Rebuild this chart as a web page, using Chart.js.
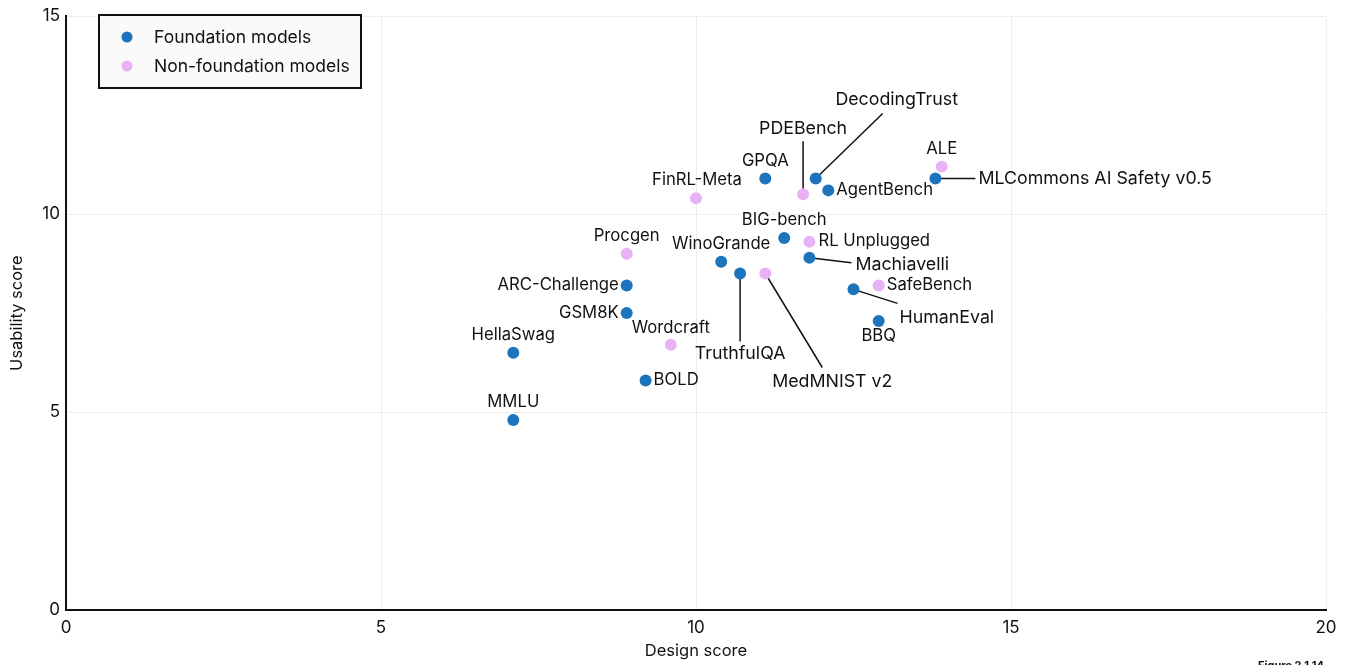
<!DOCTYPE html>
<html>
<head>
<meta charset="utf-8">
<script src="https://cdn.jsdelivr.net/npm/chart.js@4"></script>
<style>
  body { margin: 0; background: #fff; }
  #wrap { width: 1348px; height: 665px; }
</style>
</head>
<body>
<div id="wrap"><canvas id="canvas" width="1348" height="665"></canvas></div>
<script>
// data
const foundationNames = ["MMLU", "HellaSwag", "BOLD", "GSM8K", "ARC-Challenge", "WinoGrande", "TruthfulQA",
    "BIG-bench", "Machiavelli", "GPQA", "DecodingTrust", "AgentBench", "MLCommons AI Safety v0.5", "HumanEval", "BBQ"];
const foundationDesign = [7.1, 7.1, 9.2, 8.9, 8.9, 10.4, 10.7, 11.4, 11.8, 11.1, 11.9, 12.1, 13.8, 12.5, 12.9];
const foundationUsability = [4.8, 6.5, 5.8, 7.5, 8.2, 8.8, 8.5, 9.4, 8.9, 10.9, 10.9, 10.6, 10.9, 8.1, 7.3];

const nonFoundationNames = ["Procgen", "FinRL-Meta", "PDEBench", "ALE", "RL Unplugged", "SafeBench", "MedMNIST v2", "Wordcraft"];
const nonFoundationDesign = [8.9, 10.0, 11.7, 13.9, 11.8, 12.9, 11.1, 9.6];
const nonFoundationUsability = [9.0, 10.4, 10.5, 11.2, 9.3, 8.2, 8.5, 6.7];

const xTicks = [0, 5, 10, 15, 20];
const yTicks = [0, 5, 10, 15];

const blue = "#1c75bc";
const pink = "#e9b2f6";
const font = "Inter, 'Noto Sans', sans-serif";

// label placement: offset of the text from its dot, and optional leader line end
const labelPos = {
    "MMLU": [0, -18, "center"],
    "HellaSwag": [0, -18, "center"],
    "BOLD": [8, 0, "left"],
    "GSM8K": [-8, 0, "right"],
    "ARC-Challenge": [-8, 0, "right"],
    "WinoGrande": [0, -18, "center"],
    "TruthfulQA": [0, 80, "center", 0, 68],
    "BIG-bench": [0, -18, "center"],
    "Machiavelli": [46, 7, "left", 42, 5],
    "GPQA": [0, -18, "center"],
    "DecodingTrust": [81, -79, "center", 67, -65],
    "AgentBench": [8, 0, "left"],
    "MLCommons AI Safety v0.5": [43, 0, "left", 40, 0],
    "HumanEval": [46, 28, "left", 44, 14],
    "BBQ": [0, 15, "center"],
    "Procgen": [0, -18, "center"],
    "FinRL-Meta": [1, -18, "center"],
    "PDEBench": [0, -66, "center", 0, -53],
    "ALE": [0, -18, "center"],
    "RL Unplugged": [9, -1, "left"],
    "SafeBench": [8, 0, "left"],
    "MedMNIST v2": [67, 108, "center", 57, 94],
    "Wordcraft": [0, -17, "center"]
};

function toPoints(xs, ys) {
    return xs.map((x, i) => ({ x: x, y: ys[i] }));
}

const pointLabels = {
    id: "pointLabels",
    beforeDatasetsDraw(chart) {
        const ctx = chart.ctx;
        ctx.save();
        ctx.strokeStyle = "#111";
        ctx.lineWidth = 1.5;
        chart.data.datasets.forEach((ds, di) => {
            chart.getDatasetMeta(di).data.forEach((el, i) => {
                const p = labelPos[ds.names[i]];
                if (p && p.length > 3) {
                    ctx.beginPath();
                    ctx.moveTo(el.x, el.y);
                    ctx.lineTo(el.x + p[3], el.y + p[4]);
                    ctx.stroke();
                }
            });
        });
        ctx.restore();
    },
    afterDatasetsDraw(chart) {
        const ctx = chart.ctx;
        ctx.save();
        ctx.fillStyle = "#111";
        ctx.textBaseline = "middle";
        chart.data.datasets.forEach((ds, di) => {
            chart.getDatasetMeta(di).data.forEach((el, i) => {
                const p = labelPos[ds.names[i]];
                // labels with leader lines are set a touch larger
                ctx.font = (p.length > 3 ? "17.8px " : "16.7px ") + font;
                ctx.textAlign = p[2];
                ctx.fillText(ds.names[i], el.x + p[0], el.y + p[1]);
            });
        });

        // legend box
        const lx = 99, ly = 15, lw = 262, lh = 73;
        ctx.fillStyle = "#fafafa";
        ctx.fillRect(lx, ly, lw, lh);
        ctx.strokeStyle = "#111";
        ctx.lineWidth = 2;
        ctx.strokeRect(lx, ly, lw, lh);
        ctx.font = "17.5px " + font;
        chart.data.datasets.forEach((ds, di) => {
            const y = ly + 22 + di * 29;
            ctx.beginPath();
            ctx.arc(lx + 28, y, 5.5, 0, Math.PI * 2);
            ctx.fillStyle = ds.backgroundColor;
            ctx.fill();
            ctx.fillStyle = "#111";
            ctx.textAlign = "left";
            ctx.fillText(ds.label, lx + 55, y + 1);
        });

        // figure note, cut off by the bottom edge
        ctx.font = "bold 11px " + font;
        ctx.textBaseline = "top";
        ctx.textAlign = "left";
        ctx.fillText("Figure 2.1.14", 1258, 660);
        ctx.restore();
    }
};

new Chart(document.getElementById("canvas"), {
    type: "scatter",
    data: {
        datasets: [{
            label: "Foundation models",
            names: foundationNames,
            data: toPoints(foundationDesign, foundationUsability),
            backgroundColor: blue,
            borderWidth: 0,
            pointRadius: 6
        }, {
            label: "Non-foundation models",
            names: nonFoundationNames,
            data: toPoints(nonFoundationDesign, nonFoundationUsability),
            backgroundColor: pink,
            borderWidth: 0,
            pointRadius: 6
        }]
    },
    options: {
        responsive: false,
        animation: false,
        layout: { padding: { top: 15, right: 22, left: 0, bottom: 0 } },
        scales: {
            x: {
                type: "linear",
                min: 0,
                max: 20,
                afterBuildTicks: (s) => { s.ticks = xTicks.map(v => ({ value: v })); },
                afterFit: (s) => { s.height = 55; },
                grid: { color: "#eeeeee", drawTicks: false },
                border: { color: "#111", width: 2 },
                ticks: { color: "#111", font: { family: font, size: 17 }, padding: 8 },
                title: { display: true, text: "Design score", color: "#111", font: { family: font, size: 16.5 }, padding: { top: 3 } }
            },
            y: {
                type: "linear",
                min: 0,
                max: 15,
                afterBuildTicks: (s) => { s.ticks = yTicks.map(v => ({ value: v })); },
                afterFit: (s) => { s.width = 66; },
                grid: { color: "#eeeeee", drawTicks: false },
                border: { color: "#111", width: 2 },
                ticks: { color: "#111", font: { family: font, size: 17 }, padding: 6 },
                title: { display: true, text: "Usability score", color: "#111", font: { family: font, size: 16.5 }, padding: { bottom: 0, top: 7 } }
            }
        },
        plugins: {
            legend: { display: false },
            tooltip: { enabled: false }
        }
    },
    plugins: [pointLabels]
});
</script>
</body>
</html>
